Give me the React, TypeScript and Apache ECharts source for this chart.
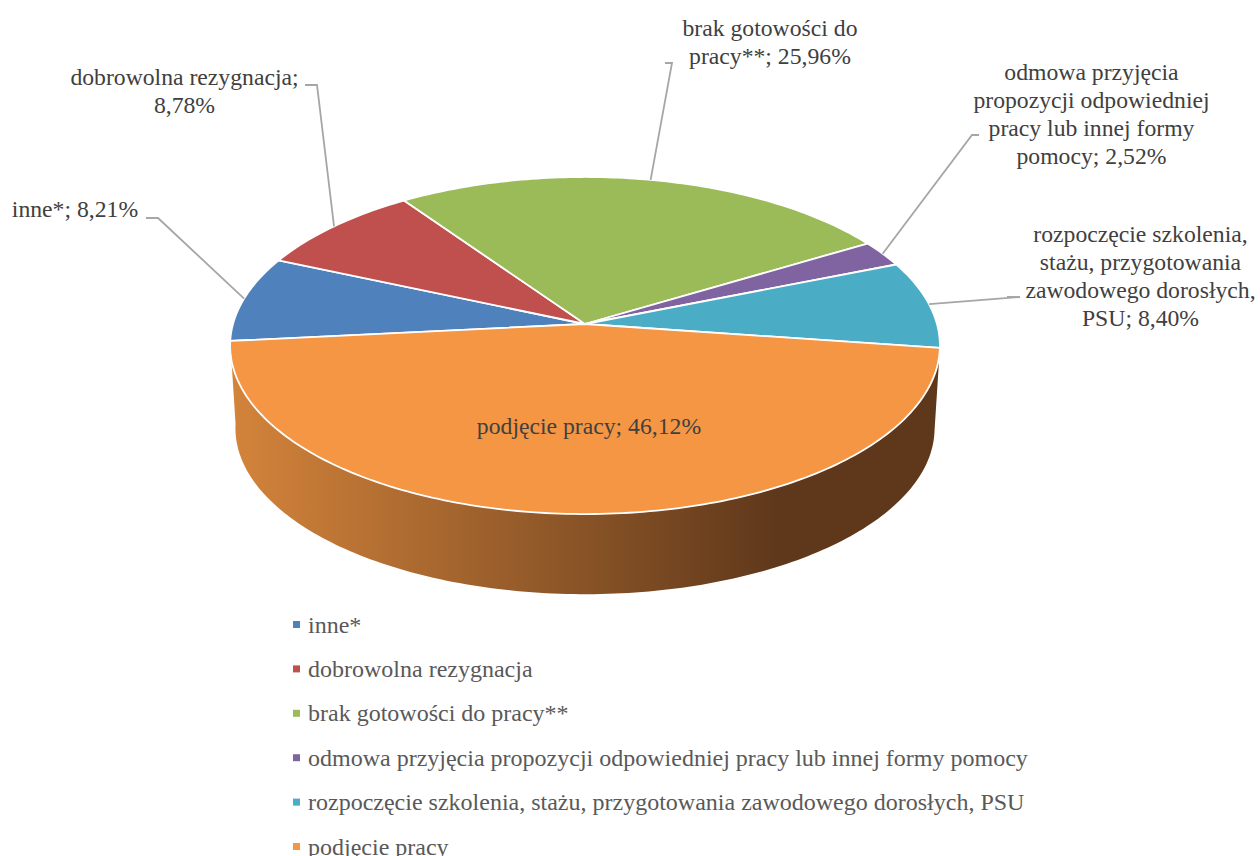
import React, { useEffect, useRef } from "react";
import * as echarts from "echarts";

const categories = [
  "inne*",
  "dobrowolna rezygnacja",
  "brak gotowości do pracy**",
  "odmowa przyjęcia propozycji odpowiedniej pracy lub innej formy pomocy",
  "rozpoczęcie szkolenia, stażu, przygotowania zawodowego dorosłych, PSU",
  "podjęcie pracy",
];
const values = [8.21, 8.78, 25.96, 2.52, 8.4, 46.12];
const colors = ["#4f81bd", "#c0504d", "#9bbb59", "#8064a2", "#4bacc6", "#f59645"];
const labelLines = [
  ["inne*; 8,21%"],
  ["dobrowolna rezygnacja;", "8,78%"],
  ["brak gotowości do", "pracy**; 25,96%"],
  ["odmowa przyjęcia", "propozycji odpowiedniej", "pracy lub innej formy", "pomocy; 2,52%"],
  ["rozpoczęcie szkolenia,", "stażu, przygotowania", "zawodowego dorosłych,", "PSU; 8,40%"],
  ["podjęcie pracy; 46,12%"],
];

// Layout of the labels: text centre and the leader's elbow points (null: label sits on the slice).
const labelCenters: number[][] = [[75, 209.3], [184.5, 91.3], [770, 42.3], [1091.5, 114.3], [1140.5, 276.3], [589, 425.5]];
const leaderElbows: (number[][] | null)[] = [
  [[158, 218], [146, 218]],
  [[317, 85], [305, 85]],
  [[672, 63], [665, 63]],
  [[972, 135], [979, 135]],
  [[1020, 297], [1007, 297]],
  null,
];

const FONT = '"Liberation Serif", "Times New Roman", serif';
const CX = 585;
const CY = 324;
const RX = 352;
const RY = 165.8;
const K = 0.1276; // perspective strength
const START = 264.2; // degrees clockwise from the top
const WALL_CY = 407;
const WALL_SCALE = 0.985;

const total = values.reduce((a, b) => a + b, 0);
const startOf = (i: number) =>
  START + (values.slice(0, i).reduce((a, b) => a + b, 0) / total) * 360;

function project(deg: number, cy = CY, scale = 1): number[] {
  const r = (deg * Math.PI) / 180;
  const u = Math.sin(r);
  const v = -Math.cos(r);
  const w = 1 / (1 - K * v);
  return [CX + RX * scale * u * w, cy + RY * scale * v * w];
}

function arc(a: number, b: number, cy = CY, scale = 1): number[][] {
  const n = Math.max(2, Math.ceil(Math.abs(b - a)));
  const pts: number[][] = [];
  for (let i = 0; i <= n; i++) pts.push(project(a + ((b - a) * i) / n, cy, scale));
  return pts;
}

function renderSlice(index: number, value: number) {
  const a = startOf(index);
  const b = a + (value / total) * 360;
  const mid = project((a + b) / 2);
  const children: any[] = [
    {
      type: "polygon",
      z2: 1,
      shape: { points: [[CX, CY], ...arc(a, b)] },
      style: { fill: colors[index], stroke: "#ffffff", lineWidth: 1.8, lineJoin: "round" },
    },
  ];
  const elbows = leaderElbows[index];
  if (elbows) {
    children.push({
      type: "polyline",
      z2: 5,
      shape: { points: [mid, ...elbows] },
      style: { fill: "none", stroke: "#a6a6a6", lineWidth: 1.8 },
    });
  }
  children.push({
    type: "text",
    z2: 10,
    style: {
      text: labelLines[index].join("\n"),
      x: labelCenters[index][0],
      y: labelCenters[index][1],
      align: "center",
      verticalAlign: "middle",
      fontFamily: FONT,
      fontSize: 23.7,
      lineHeight: 28,
      fill: "#404040",
    },
  });
  return { type: "group", children };
}

function renderWall(index: number, value: number) {
  const a = startOf(index);
  const b = a + (value / total) * 360;
  const mid = ((a + b) / 2) % 360;
  if (mid < 90 || mid > 270) return { type: "group", children: [] };
  return {
    type: "polygon",
    shape: { points: [...arc(a, b), ...arc(b, a, WALL_CY, WALL_SCALE)] },
    style: {
      fill: {
        type: "linear",
        x: 0,
        y: 0,
        x2: 1,
        y2: 0,
        colorStops: [
          { offset: 0, color: "#d4843b" },
          { offset: 0.77, color: "#5f381b" },
          { offset: 1, color: "#5f381b" },
        ],
      },
    },
  };
}

export default function App() {
  const ref = useRef<HTMLDivElement>(null);
  useEffect(() => {
    document.body.style.margin = "0";
    const chart = echarts.init(ref.current!, undefined, { renderer: "svg" });
    chart.setOption({
      animation: false,
      backgroundColor: "#ffffff",
      legend: {
        orient: "vertical",
        left: 293,
        top: 612.5,
        height: 400,
        padding: 0,
        icon: "rect",
        itemWidth: 7,
        itemHeight: 7,
        itemGap: 20.4,
        selectedMode: false,
        data: categories,
        textStyle: {
          fontFamily: FONT,
          fontSize: 24,
          color: "#595959",
          padding: [0, 0, 0, 3],
        },
      },
      series: [
        {
          type: "custom",
          name: "bok",
          coordinateSystem: "none",
          silent: true,
          z: 1,
          data: values.map((v) => [v]),
          renderItem: (p: any, api: any) => renderWall(p.dataIndex, api.value(0)),
        },
        ...categories.map((name, i) => ({
          type: "custom",
          name,
          coordinateSystem: "none",
          silent: true,
          z: 2,
          itemStyle: { color: colors[i] },
          data: [[values[i]]],
          renderItem: (_p: any, api: any) => renderSlice(i, api.value(0)),
        })),
      ],
    });
    return () => chart.dispose();
  }, []);
  return <div ref={ref} style={{ width: 1260, height: 856 }} />;
}
